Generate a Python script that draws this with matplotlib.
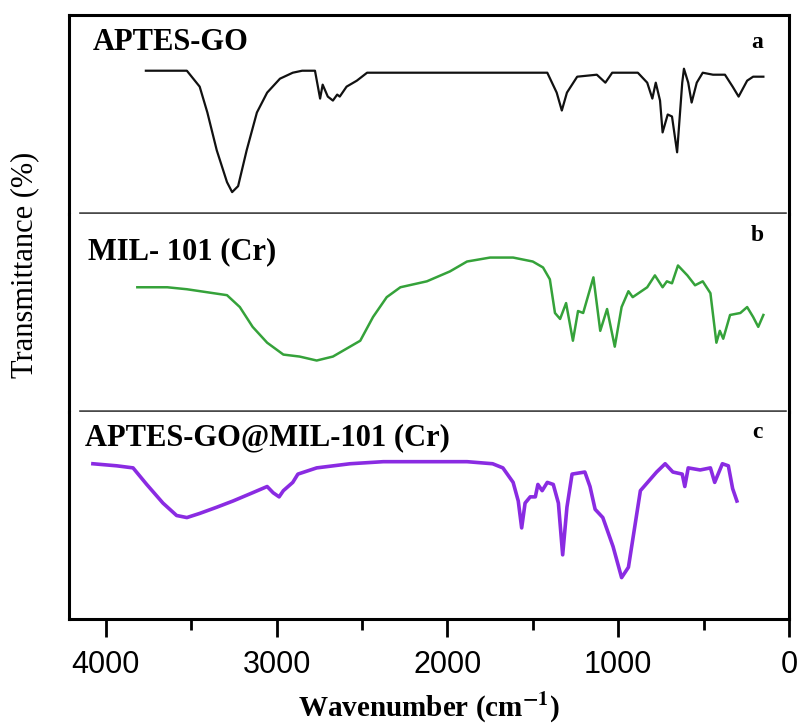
import matplotlib
matplotlib.use("Agg")
import matplotlib.pyplot as plt
from matplotlib.ticker import MultipleLocator

# FTIR spectra (wavenumber in cm-1, transmittance in % of panel height)
wn_a = [3765, 3525, 3450, 3405, 3350, 3290, 3260, 3225, 3175, 3115, 3055, 2980, 2905, 2850,
        2775, 2745, 2730, 2700, 2670, 2645, 2630, 2590, 2530, 2470, 2355, 1415, 1360, 1330,
        1300, 1240, 1125, 1075, 1035, 885, 830, 800, 780, 755, 740, 710, 685, 655, 625, 615,
        590, 570, 540, 505, 445, 375, 330, 295, 245, 210, 150]
t_a = [72, 72, 64, 51, 32, 16, 11, 14, 32, 51, 61, 68, 71, 72,
       72, 58, 65, 59, 57, 60, 59, 64, 67, 71, 71, 71, 61, 52,
       61, 69, 70, 66, 71, 71, 66, 58, 66, 57, 41, 50, 49, 31, 66, 73,
       66, 56, 66, 71, 70, 70, 64, 59, 67, 69, 69]

wn_b = [3815, 3640, 3525, 3290, 3215, 3140, 3055, 2960, 2865, 2765, 2670, 2570, 2510, 2435,
        2355, 2275, 2120, 1985, 1885, 1750, 1615, 1500, 1440, 1400, 1370, 1340, 1305, 1265,
        1235, 1205, 1145, 1105, 1065, 1020, 980, 940, 915, 830, 785, 740, 715, 685, 650,
        595, 550, 505, 460, 425, 405, 385, 345, 285, 245, 210, 180, 150]
t_b = [63, 63, 62, 59, 53, 43, 35, 29, 28, 26, 28, 33, 36, 48,
       58, 63, 66, 71, 76, 78, 78, 76, 73, 67, 50, 47, 55, 36,
       51, 50, 68, 41, 52, 33, 53, 61, 58, 63, 69, 63, 66, 65, 74,
       69, 64, 66, 60, 35, 41, 37, 49, 50, 53, 48, 43, 49]

wn_c = [4075, 3935, 3840, 3760, 3665, 3585, 3525, 3450, 3350, 3255, 3140, 3055, 3020, 2985,
        2960, 2905, 2875, 2765, 2570, 2375, 1885, 1735, 1675, 1615, 1585, 1565, 1545, 1515,
        1485, 1470, 1445, 1415, 1380, 1350, 1325, 1300, 1270, 1195, 1165, 1135, 1090, 1030,
        980, 940, 870, 775, 725, 680, 625, 610, 590, 520, 460, 435, 390, 355, 330, 305]
t_c = [75, 74, 73, 65, 56, 50, 49, 51, 54, 57, 61, 64, 61, 59,
       62, 66, 70, 73, 75, 76, 76, 75, 73, 66, 57, 44, 56, 59,
       59, 65, 62, 66, 65, 56, 31, 54, 70, 71, 64, 53, 49, 35,
       20, 25, 62, 71, 75, 71, 70, 64, 73, 72, 73, 66, 75, 74, 63, 57]

names = ["APTES-GO", "MIL- 101 (Cr)", "APTES-GO@MIL-101 (Cr)"]
letters = ["a", "b", "c"]
colors = ["#111111", "#35a23a", "#8a2be2"]
widths = [1.6, 1.8, 2.6]
series = [(wn_a, t_a), (wn_b, t_b), (wn_c, t_c)]

serif = ["Liberation Serif", "DejaVu Serif"]
plt.rcParams["mathtext.fontset"] = "stix"

fig = plt.figure(figsize=(8, 7.27), dpi=100)
gs = fig.add_gridspec(3, 1, height_ratios=[199, 198, 207], hspace=0,
                      left=69 / 800, right=789 / 800, bottom=1 - 619 / 727, top=1 - 15 / 727)
axes = [fig.add_subplot(gs[i]) for i in range(3)]

name_y = [0.86, 0.81, 0.874]
letter_y = [0.86, 0.89, 0.90]
name_x = [0.033, 0.026, 0.022]

for i, ax in enumerate(axes):
    wn, t = series[i]
    ax.plot(wn, t, color=colors[i], lw=widths[i], solid_joinstyle="round")
    ax.set_xlim(4215, 0)
    ax.set_ylim(0, 100)
    ax.set_yticks([])
    for s in ["left", "right", "top", "bottom"]:
        ax.spines[s].set_linewidth(2.2)
        ax.spines[s].set_color("black")
    if i > 0:
        ax.spines["top"].set_visible(False)
    if i < 2:
        ax.spines["bottom"].set_visible(False)
        ax.tick_params(axis="x", which="both", bottom=False, labelbottom=False)
        # grey divider between panels
        ax.axhline(0, xmin=0.017, xmax=0.994, color="#4a4a4a", lw=2.6)
    ax.text(name_x[i], name_y[i], names[i], transform=ax.transAxes, family=serif,
            fontweight="bold", fontsize=22, va="center", ha="left")
    ax.text(0.956, letter_y[i], letters[i], transform=ax.transAxes, family=serif,
            fontweight="bold", fontsize=17, va="center", ha="center")

ax = axes[2]
ax.xaxis.set_major_locator(MultipleLocator(1000))
ax.xaxis.set_minor_locator(MultipleLocator(500))
ax.tick_params(axis="x", which="major", direction="out", length=13, width=2, pad=9,
               labelsize=22, labelfontfamily="Liberation Sans")
ax.tick_params(axis="x", which="minor", direction="out", length=8, width=2)
ax.set_xlabel(r"Wavenumber (cm$^{\mathbf{-1}}$)", family=serif, fontweight="bold",
              fontsize=21, labelpad=8)

fig.text(25 / 800, 1 - 265 / 727, "Transmittance (%)", rotation=90, family=serif,
         fontsize=22, va="center", ha="center")

fig.savefig("out.png", dpi=100)
